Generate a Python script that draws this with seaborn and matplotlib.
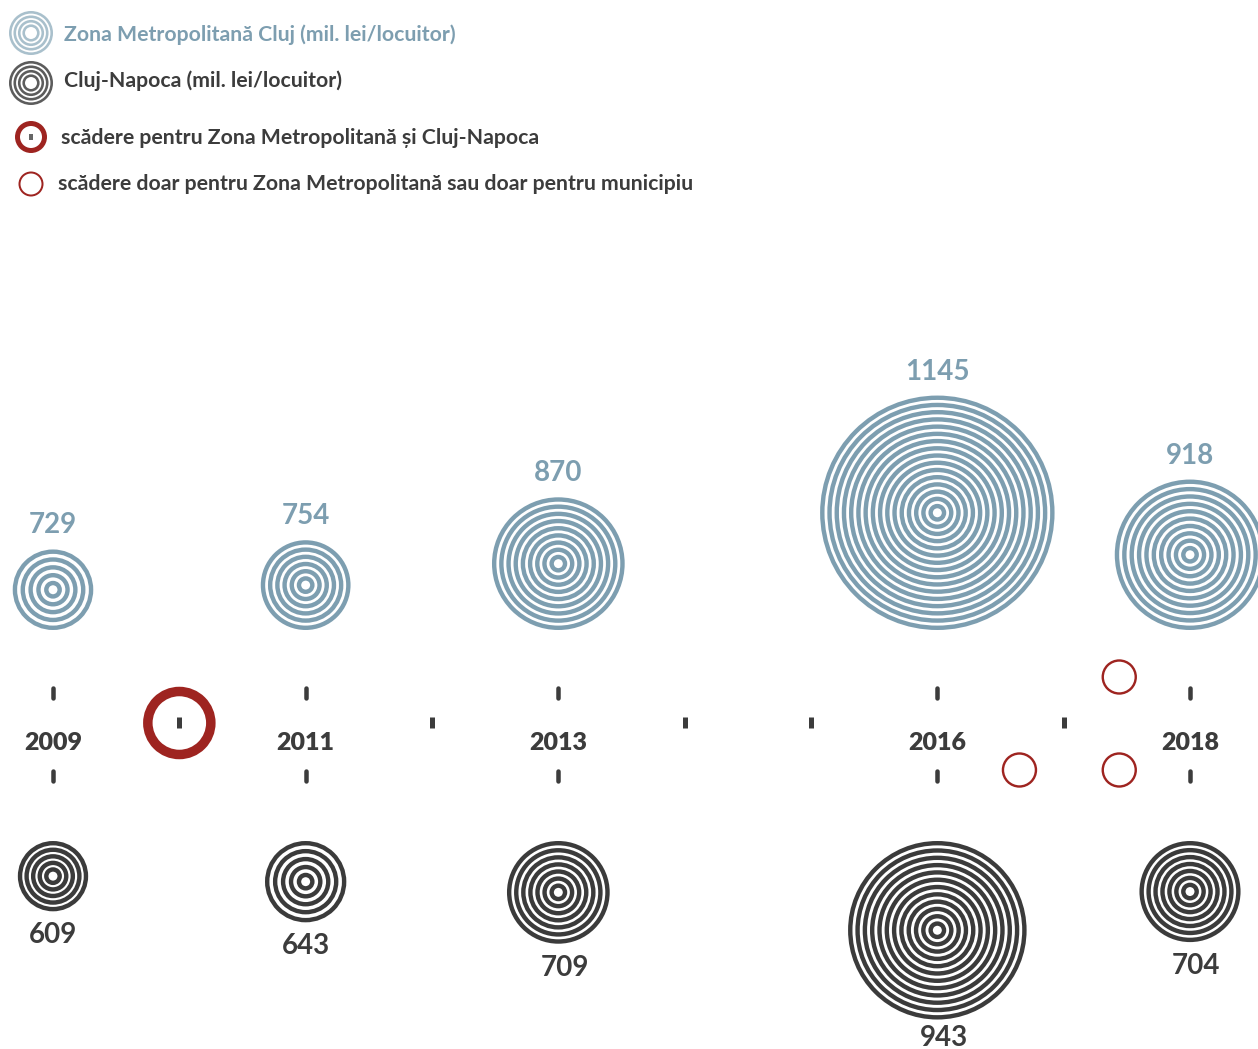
import numpy as np
import pandas as pd
import seaborn as sns
import matplotlib
matplotlib.use("Agg")
import matplotlib.pyplot as plt
from matplotlib import font_manager as fm


# ---- data ----
years = [2009, 2011, 2013, 2016, 2018]
timeline_years = list(range(2009, 2019))
zona_values = [729, 754, 870, 1145, 918]
cluj_values = [609, 643, 709, 943, 704]

# decreases: both series went down (thick ring) / only one of them (thin ring)
both_drop_years = [2010]
one_drop_years = [2016.65, 2017.44, 2017.44]
one_drop_rows = ["lower", "upper", "lower"]

legend_labels = ["Zona Metropolitană Cluj (mil. lei/locuitor)",
                 "Cluj-Napoca (mil. lei/locuitor)",
                 "scădere pentru Zona Metropolitană și Cluj-Napoca",
                 "scădere doar pentru Zona Metropolitană sau doar pentru municipiu"]


# ---- style ----
ZONA = "#7d9eb0"
ZONA_LIGHT = "#a9c0cc"
CLUJ = "#3b3b3b"
CLUJ_LIGHT = "#5c5c5c"
RED = "#9e2420"
TEXT = "#3c3c3c"

W, H = 1258, 1049
PT = 0.72                      # points per pixel at dpi 100
PX_PER_YEAR = (1190 - 53) / 9
ZONA_BASE = 630                # bottom of the upper circles
CLUJ_BASE = 841                # top of the lower circles
AXIS_Y = 723


def pick_font(candidates):
    # first family that really has a bold face
    for fam in candidates:
        try:
            path = fm.findfont(fm.FontProperties(family=fam, weight="bold"),
                               fallback_to_default=False)
        except ValueError:
            continue
        if "bold" in path.lower():
            return fam
    return "DejaVu Sans"


def zona_radius(v):
    return 0.185 * v - 94.6


def cluj_radius(v):
    return 0.162 * v - 63.5


def ring_radii(radius, stroke=4.4, period=7.3, hole=4.5):
    n = int(round((radius - hole - stroke) / period)) + 1
    return np.linspace(hole + stroke / 2, radius - stroke / 2, max(n, 1))


def ring_frame(xs, cys, radii, **kw):
    rows = []
    for x, cy, r in zip(xs, cys, radii):
        for rr in ring_radii(r, **kw):
            rows.append({"x": x, "y": cy, "s": (2 * rr * PT) ** 2})
    return pd.DataFrame(rows)


def draw_rings(ax, df, color, stroke):
    smin, smax = df["s"].min(), df["s"].max()
    sns.scatterplot(data=df, x="x", y="y", size="s", sizes=(smin, smax),
                    size_norm=(smin, smax), legend=False, ax=ax,
                    facecolor="none", edgecolor=color, linewidth=stroke * PT)


sns.set_theme(style="white")
FONT = pick_font(["Lato", "Roboto", "Open Sans", "Noto Sans"])
plt.rcParams["font.family"] = [FONT, "DejaVu Sans"]

fig = plt.figure(figsize=(W / 100, H / 100), dpi=100)
ax = fig.add_axes([0, 0, 1, 1])
x0 = 2009 - 53 / PX_PER_YEAR
ax.set_xlim(x0, x0 + W / PX_PER_YEAR)
ax.set_ylim(H, 0)
ax.axis("off")

# concentric circles
zr = [zona_radius(v) for v in zona_values]
cr = [cluj_radius(v) for v in cluj_values]
zona_cy = [ZONA_BASE - r for r in zr]
cluj_cy = [CLUJ_BASE + r for r in cr]
draw_rings(ax, ring_frame(years, zona_cy, zr), ZONA, 4.4)
draw_rings(ax, ring_frame(years, cluj_cy, cr), CLUJ, 4.4)

# value labels
for yr, v, r in zip(years, zona_values, zr):
    ax.text(yr, ZONA_BASE - 2 * r - 16, str(v), ha="center", va="baseline",
            color=ZONA, fontsize=20, fontweight="bold")
for yr, v, r in zip(years, cluj_values, cr):
    ax.text(yr + 0.05 * (r > 50), min(CLUJ_BASE + 2 * r + 32, H - 3), str(v),
            ha="center", va="baseline", color=TEXT, fontsize=20, fontweight="bold")

# timeline
missing = [y for y in timeline_years if y not in years]
ax.vlines(years, 688, 698, color=TEXT, linewidth=4.5 * PT, capstyle="round")
ax.vlines(years, 771, 781, color=TEXT, linewidth=4.5 * PT, capstyle="round")
ax.vlines(missing, 717, 728, color=TEXT, linewidth=5 * PT, capstyle="butt")
for yr in years:
    ax.text(yr, AXIS_Y + 27, str(yr), ha="center", va="baseline", color=TEXT,
            fontsize=18, fontweight="heavy")

# decrease markers
ax.scatter(both_drop_years, [AXIS_Y] * len(both_drop_years), s=(2 * 31.5 * PT) ** 2,
           facecolor="none", edgecolor=RED, linewidth=9.5 * PT)
row_y = {"upper": 677, "lower": 770}
ax.scatter(one_drop_years, [row_y[r] for r in one_drop_rows], s=(2 * 16.5 * PT) ** 2,
           facecolor="none", edgecolor=RED, linewidth=2.4 * PT)

# ---- legend (pixel coordinates) ----
lax = fig.add_axes([0, 0, 1, 1])
lax.set_xlim(0, W)
lax.set_ylim(H, 0)
lax.axis("off")
lax.patch.set_alpha(0)

draw_rings(lax, ring_frame([31], [33], [22], stroke=2.6, period=5.2, hole=6), ZONA_LIGHT, 2.6)
draw_rings(lax, ring_frame([31], [83], [22], stroke=2.6, period=5.2, hole=6), CLUJ_LIGHT, 2.6)
lax.scatter([31], [137], s=(2 * 13.5 * PT) ** 2, facecolor="none", edgecolor=RED, linewidth=5 * PT)
lax.vlines([31], 134, 140, color="#666666", linewidth=4 * PT)
lax.scatter([31], [184], s=(2 * 11.5 * PT) ** 2, facecolor="none", edgecolor=RED, linewidth=2 * PT)

legend_x = [64, 64, 61, 58]
legend_y = [35, 81, 138, 184]
legend_colors = [ZONA, TEXT, TEXT, TEXT]
for lbl, lx, ly, lc in zip(legend_labels, legend_x, legend_y, legend_colors):
    lax.text(lx, ly, lbl, ha="left", va="center", color=lc, fontsize=15.3, fontweight="bold")

fig.savefig("out.png", dpi=100)
